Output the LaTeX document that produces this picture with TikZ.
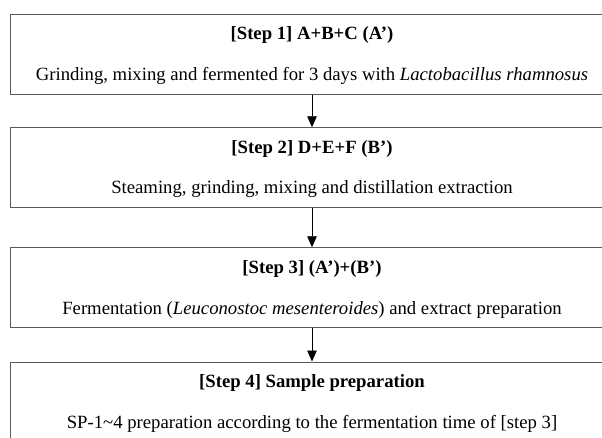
\documentclass[tikz,border=0pt]{standalone}
\usepackage{fontspec}
\setmainfont{Liberation Serif}
\usetikzlibrary{arrows.meta}
\begin{document}
\begin{tikzpicture}[x=1pt,y=-1pt,
  stepbox/.style={draw=black!65,line width=1pt,minimum width=603pt,minimum height=80pt,inner sep=0pt},
  ttl/.style={font=\fontsize{18.7}{22}\selectfont\bfseries,inner sep=0pt},
  txt/.style={font=\fontsize{18.7}{22}\selectfont,inner sep=0pt},
  flow/.style={draw=black,line width=0.9pt,-{Triangle[length=11pt,width=9.5pt]}}]
\useasboundingbox (0,0) rectangle (602,437);
\node[stepbox] (b1) at (312,54) {};
\node[stepbox] (b2) at (312,167.75) {};
\node[stepbox] (b3) at (312,287.75) {};
\node[stepbox] (b4) at (312,402) {};
\node[ttl] (t1) at (312,35) {[Step 1] A+B+C (A’)};
\node[txt] (s1) at (312,76) {Grinding, mixing and fermented for 3 days with \textit{Lactobacillus rhamnosus}};
\node[ttl] (t2) at (312,148.5) {[Step 2] D+E+F (B’)};
\node[txt] (s2) at (312,189.5) {Steaming, grinding, mixing and distillation extraction};
\node[ttl] (t3) at (312,268.5) {[Step 3] (A’)+(B’)};
\node[txt] (s3) at (312,309.5) {Fermentation (\textit{Leuconostoc mesenteroides}) and extract preparation};
\node[ttl] (t4) at (312,383) {[Step 4] Sample preparation};
\node[txt] (s4) at (312,424) {SP-1\textasciitilde4 preparation according to the fermentation time of [step 3]};
\draw[flow] (b1.south) -- (b2.north);
\draw[flow] (b2.south) -- (b3.north);
\draw[flow] (b3.south) -- (b4.north);
\end{tikzpicture}
\end{document}
